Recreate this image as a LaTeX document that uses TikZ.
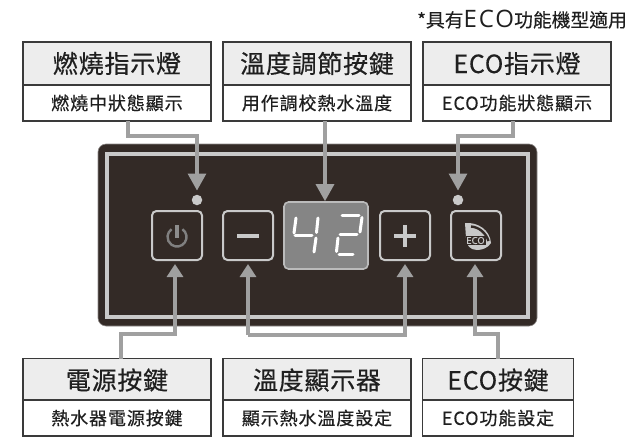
\documentclass[tikz,border=0pt]{standalone}
\usepackage{fontspec}
\usetikzlibrary{arrows.meta}
\setmainfont{Noto Sans CJK TC}[FakeBold=0.25]
\newfontfamily\headfont[LetterSpace=3,FakeBold=0.4]{Noto Sans CJK TC}
\newfontfamily\subfont[LetterSpace=5,FakeBold=0.4]{Noto Sans CJK TC}
\newfontfamily\ecofont[LetterSpace=8]{Open Sans}
\newfontfamily\icofont[FakeBold=1]{Open Sans}
\definecolor{panelc}{HTML}{332A26}
\definecolor{linec}{HTML}{A0A0A0}
\definecolor{framec}{HTML}{C9C9C9}
\definecolor{headc}{HTML}{EDEDED}
\definecolor{boxc}{HTML}{3A3A3A}
\definecolor{dispc}{HTML}{858585}
\tikzset{
 x=1pt,y=-1pt,
 head/.style={draw=boxc,line width=1.2pt,fill=headc,inner sep=0pt,text=black!88,font=\headfont\fontsize{25}{28}\selectfont},
 subb/.style={draw=boxc,line width=1.2pt,fill=white,inner sep=0pt,text=black!88,font=\subfont\fontsize{18}{20}\selectfont},
 wideb/.style={minimum width=188pt},
 narrowb/.style={minimum width=151pt},
 hh/.style={minimum height=43pt},
 sh/.style={minimum height=36pt},
 conn/.style={draw=linec,line width=3.1pt,line join=miter},
 tipdown/.style={-{Triangle[length=17pt,width=18pt]}},
 tipup/.style={-{Triangle[length=13pt,width=16pt]}},
 btn/.style={draw=framec,line width=2pt,rounded corners=4.5pt,minimum width=50pt,minimum height=49pt,inner sep=0pt},
 led/.style={circle,fill=framec,minimum size=10.5pt,inner sep=0pt},
 seg/.style={draw=white,line width=3pt,line cap=round},
}
\begin{document}
\begin{tikzpicture}
\useasboundingbox (0,0) rectangle (629,437);
% note
\node[anchor=base west,inner sep=0pt,text=black!88] (note) at (417,27) {\fontsize{18.8}{20}\selectfont *具有{\ecofont\fontsize{24}{26}\selectfont ECO}功能機型適用};
% top boxes
\node[head,wideb,hh] (t1) at (117,63.5) {燃燒指示燈};
\node[subb,wideb,sh] (s1) at (117,103) {燃燒中狀態顯示};
\node[head,wideb,hh] (t2) at (317,63.5) {溫度調節按鍵};
\node[subb,wideb,sh] (s2) at (317,103) {用作調校熱水溫度};
\node[head,wideb,hh] (t3) at (517,63.5) {ECO指示燈};
\node[subb,wideb,sh] (s3) at (517,103) {ECO功能狀態顯示};
% panel
\node[fill=panelc,draw=framec!60!panelc,line width=.6pt,rounded corners=8pt,minimum width=439pt,minimum height=182pt,inner sep=0pt] (panel) at (317.5,235) {};
\node[draw=framec,line width=3.7pt,minimum width=421pt,minimum height=163pt,inner sep=0pt] (frame) at (317.5,235.5) {};
% buttons
\node[btn] (bp) at (177,235.5) {};
\node[btn] (bm) at (248,235.5) {};
\node[btn] (bq) at (405,235.5) {};
\node[btn] (be) at (476,235.5) {};
\node[led] (l1) at (197,200) {};
\node[led] (l2) at (458,200) {};
\node[fill=dispc,draw=framec!80!dispc,line width=1.6pt,rounded corners=4.5pt,minimum width=84pt,minimum height=67pt,inner sep=0pt] (disp) at (326,235.5) {};
% power icon
\begin{scope}[shift={(177,237)},y=1pt]
\draw[draw=black!50,line width=2.4pt] (55:9.5) arc[start angle=55,end angle=-235,radius=9.5];
\end{scope}
\draw[draw=framec!70!black,line width=3.4pt] (177,225) -- (177,238);
% minus and plus
\draw[draw=framec,line width=3.8pt] (237,236) -- (259,236);
\draw[draw=framec,line width=3.8pt] (394,236) -- (416,236) (405,225) -- (405,247);
% eco icon
\fill[framec] (465,223) .. controls (478,222) and (490,230) .. (491,243) .. controls (488,248) and (482,250) .. (477,250) .. controls (470,250) and (466,245) .. (466,238) -- cycle;
\draw[draw=panelc,line width=2.4pt] (471,226.5) .. controls (479,227) and (486,233) .. (488.5,241);
\fill[panelc] (466,236) rectangle (485.5,245);
\node[inner sep=0pt,text=framec,font=\icofont\fontsize{9.5}{10}\selectfont] (ecot) at (475.5,240.5) {ECO};
% digits
\draw[seg] (296,218) -- (294,233);
\draw[seg] (295,235.5) -- (312,235.5);
\draw[seg] (318,218) -- (316.5,232.5);
\draw[seg] (316,238) -- (314,252);
\draw[seg] (342,215) -- (359,215);
\draw[seg] (362,217.5) -- (360,232);
\draw[seg] (340,234.5) -- (357,234.5);
\draw[seg] (338,238) -- (336.5,251.5);
\draw[seg] (339,254.5) -- (353,254.5);
% bottom boxes
\node[head,wideb,hh] (t4) at (117,380) {電源按鍵};
\node[subb,wideb,sh] (s4) at (117,418) {熱水器電源按鍵};
\node[head,wideb,hh] (t5) at (317,380) {溫度顯示器};
\node[subb,wideb,sh] (s5) at (317,418) {顯示熱水溫度設定};
\node[head,narrowb,hh] (t6) at (498,380) {ECO按鍵};
\node[subb,narrowb,sh] (s6) at (498,418) {ECO功能設定};
% connectors
\coordinate (c1) at (128,121);
\coordinate (c2) at (325,121);
\coordinate (c3) at (513,121);
\coordinate (c4) at (121,358.5);
\coordinate (c6) at (498,358.5);
\draw[conn,tipdown,shorten >=4pt] (c1) -- (128,136) -| (l1.north);
\draw[conn,tipdown] (c2) -- (c2 |- disp.north);
\draw[conn,tipdown,shorten >=4pt] (c3) -- (513,136) -| (l2.north);
\draw[conn,tipup,shorten >=3pt] (c4) -- (121,334) -| ([xshift=-2pt]bp.south);
\draw[conn,tipup,shorten >=3pt] (bm.south) ++(0,74) -- (bm.south);
\draw[conn,tipup,shorten >=3pt] (bm.south) ++(0,74) -| (bq.south);
\draw[conn,tipup,shorten >=3pt] (c6) -- (498,334) -| ([xshift=-1pt]be.south);
\end{tikzpicture}
\end{document}
